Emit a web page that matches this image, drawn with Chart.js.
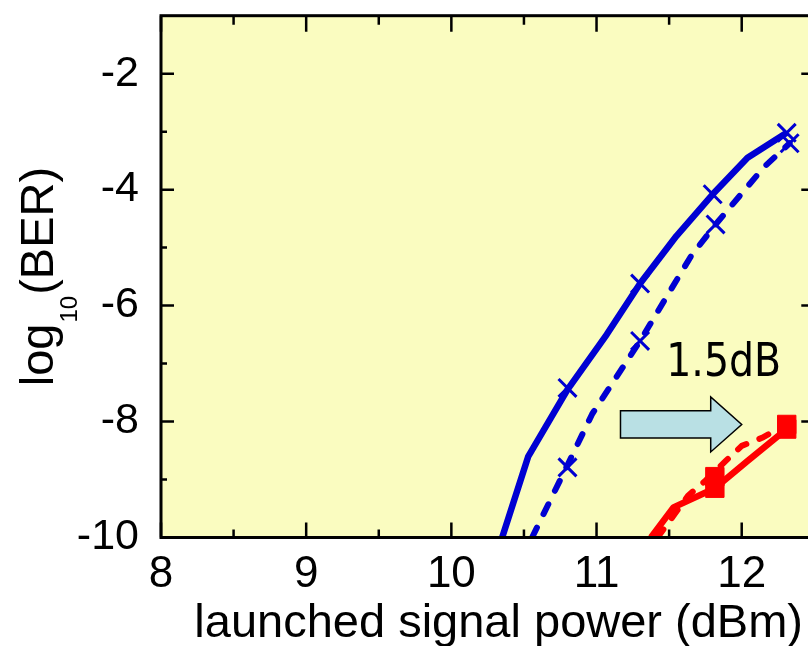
<!DOCTYPE html>
<html><head><meta charset="utf-8">
<script src="https://cdn.jsdelivr.net/npm/chart.js@4.4.1/dist/chart.umd.min.js"></script>
<style>
html,body{margin:0;padding:0;background:#fff;overflow:hidden;width:808px;height:646px}
#wrap{position:relative;width:830px;height:646px}
</style></head><body>
<div id="wrap"><canvas id="c"></canvas></div>
<script>
// ---- data ----
const xTickValues = [8, 9, 10, 11, 12];
const xMinorValues = [8.5, 9.5, 10.5, 11.5, 12.5];
const yTickValues = [-10, -8, -6, -4, -2];
const yMinorValues = [-9, -7, -5, -3];

const blueSolidX = [10.35, 10.53, 10.80, 11.07, 11.30, 11.55, 11.80, 12.04, 12.31];
const blueSolidY = [-10, -8.6, -7.45, -6.5, -5.62, -4.8, -4.08, -3.45, -3.02];
const blueSolidMarkX = [10.80, 11.30, 11.80, 12.31];
const blueSolidMarkY = [-7.42, -5.62, -4.08, -3.02];

const blueDashX = [10.556, 10.80, 10.97, 11.30, 11.65, 11.82, 12.15, 12.33];
const blueDashY = [-10, -8.75, -7.87, -6.61, -5.15, -4.6, -3.62, -3.2];
const blueDashMarkX = [10.80, 11.30, 11.82, 12.33];
const blueDashMarkY = [-8.79, -6.61, -4.6, -3.2];

const redSolidX = [11.375, 11.53, 11.815, 12.04, 12.31];
const redSolidY = [-10, -9.48, -9.15, -8.68, -8.13];
const redSolidMarkX = [11.815, 12.31];
const redSolidMarkY = [-9.15, -8.13];

const redDashX = [11.42, 11.63, 11.75, 11.89, 12.0, 12.14, 12.31];
const redDashY = [-10, -9.28, -9.02, -8.68, -8.42, -8.28, -8.05];
const redDashMarkX = [11.815, 12.31];
const redDashMarkY = [-8.95, -8.05];

const noteText = '1.5dB';
const xTitle = 'launched signal power (dBm)';

// ---- style ----
const BLUE = '#0000d2', RED = '#ff0000', BG = '#fafcc0';
const FONT = '"Liberation Sans", Arial, sans-serif';
const pts = (xs, ys) => xs.map((x, i) => ({x, y: ys[i]}));

const lineDs = (xs, ys, color, w, dash) => ({
  data: pts(xs, ys), borderColor: color, borderWidth: w, borderDash: dash || [],
  borderCapStyle: dash ? 'round' : 'butt', borderJoinStyle: 'round',
  pointRadius: 0, showLine: true, fill: false, tension: 0
});
const markDs = (xs, ys, color, style, r, bw) => ({
  data: pts(xs, ys), showLine: false, pointStyle: style, pointRadius: r,
  pointBorderColor: color, pointBackgroundColor: color, pointBorderWidth: bw, borderColor: color, backgroundColor: color
});

// annotation anchors in data units
const arrow = {x0: 11.165, x1: 12.0, y: -8.05};
const noteAt = {x: 11.48, y: -7.22};

const deco = {
  id: 'deco',
  beforeDatasetsDraw(chart) {
    const {ctx, chartArea: a} = chart;
    ctx.save(); ctx.fillStyle = BG;
    ctx.fillRect(a.left, a.top, a.right - a.left, a.bottom - a.top);
    ctx.restore();
  },
  afterDatasetsDraw(chart) {
    const {ctx, scales: {x, y}} = chart;
    // arrow
    const x0 = x.getPixelForValue(arrow.x0), x1 = x.getPixelForValue(arrow.x1), yc = y.getPixelForValue(arrow.y);
    const hb = 13.6, hh = 27.5, hl = 31;
    ctx.save();
    ctx.beginPath();
    ctx.moveTo(x0, yc - hb); ctx.lineTo(x1 - hl, yc - hb); ctx.lineTo(x1 - hl, yc - hh);
    ctx.lineTo(x1, yc); ctx.lineTo(x1 - hl, yc + hh); ctx.lineTo(x1 - hl, yc + hb);
    ctx.lineTo(x0, yc + hb); ctx.closePath();
    ctx.fillStyle = '#b9e0e4'; ctx.fill();
    ctx.lineWidth = 1.5; ctx.strokeStyle = '#000'; ctx.stroke();
    // note text (slightly condensed)
    ctx.fillStyle = '#000'; ctx.font = '47px "DejaVu Sans", Verdana, sans-serif';
    ctx.textAlign = 'left'; ctx.textBaseline = 'alphabetic';
    ctx.translate(x.getPixelForValue(noteAt.x), y.getPixelForValue(noteAt.y));
    ctx.scale(0.84, 1);
    ctx.fillText(noteText, 0, 0);
    ctx.restore();
  },
  afterDraw(chart) {
    const {ctx, chartArea: a, scales: {x, y}} = chart;
    ctx.save();
    ctx.strokeStyle = '#000'; ctx.lineWidth = 2.5; ctx.lineCap = 'butt';
    const vt = (v, lb, lt) => { const p = x.getPixelForValue(v);
      ctx.beginPath(); ctx.moveTo(p, a.bottom); ctx.lineTo(p, a.bottom - lb);
      ctx.moveTo(p, a.top); ctx.lineTo(p, a.top + lt); ctx.stroke(); };
    xTickValues.forEach(v => vt(v, 15, 16));
    xMinorValues.forEach(v => vt(v, 8, 9));
    const ht = (v, l) => { const p = y.getPixelForValue(v);
      ctx.beginPath(); ctx.moveTo(a.left, p); ctx.lineTo(a.left + l, p);
      ctx.moveTo(a.right, p); ctx.lineTo(a.right - l, p); ctx.stroke(); };
    yTickValues.forEach(v => ht(v, 13));
    yMinorValues.forEach(v => ht(v, 6));
    ctx.lineWidth = 3;
    ctx.strokeRect(a.left, a.top, a.right - a.left, a.bottom - a.top);
    // x title
    ctx.fillStyle = '#000'; ctx.font = '47px ' + FONT;
    ctx.textAlign = 'center'; ctx.textBaseline = 'alphabetic';
    ctx.fillText(xTitle, (a.left + a.right) / 2 + 11, 637);
    // y title with subscript
    ctx.translate(53, (a.top + a.bottom) / 2); ctx.rotate(-Math.PI / 2);
    ctx.textAlign = 'left';
    const big = '47px ' + FONT, small = '24px ' + FONT;
    ctx.font = big; const w1 = ctx.measureText('log').width;
    ctx.font = small; const w2 = ctx.measureText('10').width;
    ctx.font = big; const w3 = ctx.measureText('(BER)').width;
    let sx = -(w1 + w2 + 2 + w3) / 2;
    ctx.font = big; ctx.fillText('log', sx, 0); sx += w1 + 1;
    ctx.font = small; ctx.fillText('10', sx, 24); sx += w2 + 1;
    ctx.font = big; ctx.fillText('(BER)', sx, 0);
    ctx.restore();
  }
};

new Chart(document.getElementById('c'), {
  type: 'scatter',
  data: {datasets: [
    lineDs(redDashX, redDashY, RED, 6, [10, 14]),
    lineDs(redSolidX, redSolidY, RED, 6.5),
    markDs(redDashMarkX, redDashMarkY, RED, 'rect', 13, 1),
    markDs(redSolidMarkX, redSolidMarkY, RED, 'rect', 13, 1),
    lineDs(blueDashX, blueDashY, BLUE, 6, [11, 15]),
    lineDs(blueSolidX, blueSolidY, BLUE, 6.5),
    markDs(blueDashMarkX, blueDashMarkY, BLUE, 'crossRot', 12.7, 3),
    markDs(blueSolidMarkX, blueSolidMarkY, BLUE, 'crossRot', 12.7, 3)
  ]},
  options: {
    responsive: true, maintainAspectRatio: false, animation: false,
    layout: {padding: {left: 0, right: 10, top: 12, bottom: 0}},
    plugins: {legend: {display: false}, tooltip: {enabled: false}},
    scales: {
      x: {
        type: 'linear', min: 8, max: 12.5,
        grid: {display: false, drawTicks: false}, border: {display: false},
        afterBuildTicks: s => { s.ticks = xTickValues.map(v => ({value: v})); },
        afterFit: s => { s.height = 108.5; s.paddingLeft = 0; s.paddingRight = 0; },
        ticks: {font: {family: FONT, size: 44}, color: '#000', padding: 11, maxRotation: 0, autoSkip: false}
      },
      y: {
        type: 'linear', min: -10, max: -1,
        grid: {display: false, drawTicks: false}, border: {display: false},
        afterBuildTicks: s => { s.ticks = yTickValues.map(v => ({value: v})); },
        afterFit: s => { s.width = 161; s.paddingTop = 0; s.paddingBottom = 0; },
        ticks: {font: {family: FONT, size: 43}, color: '#000', padding: 22, autoSkip: false}
      }
    }
  },
  plugins: [deco]
});
</script>
</body></html>
